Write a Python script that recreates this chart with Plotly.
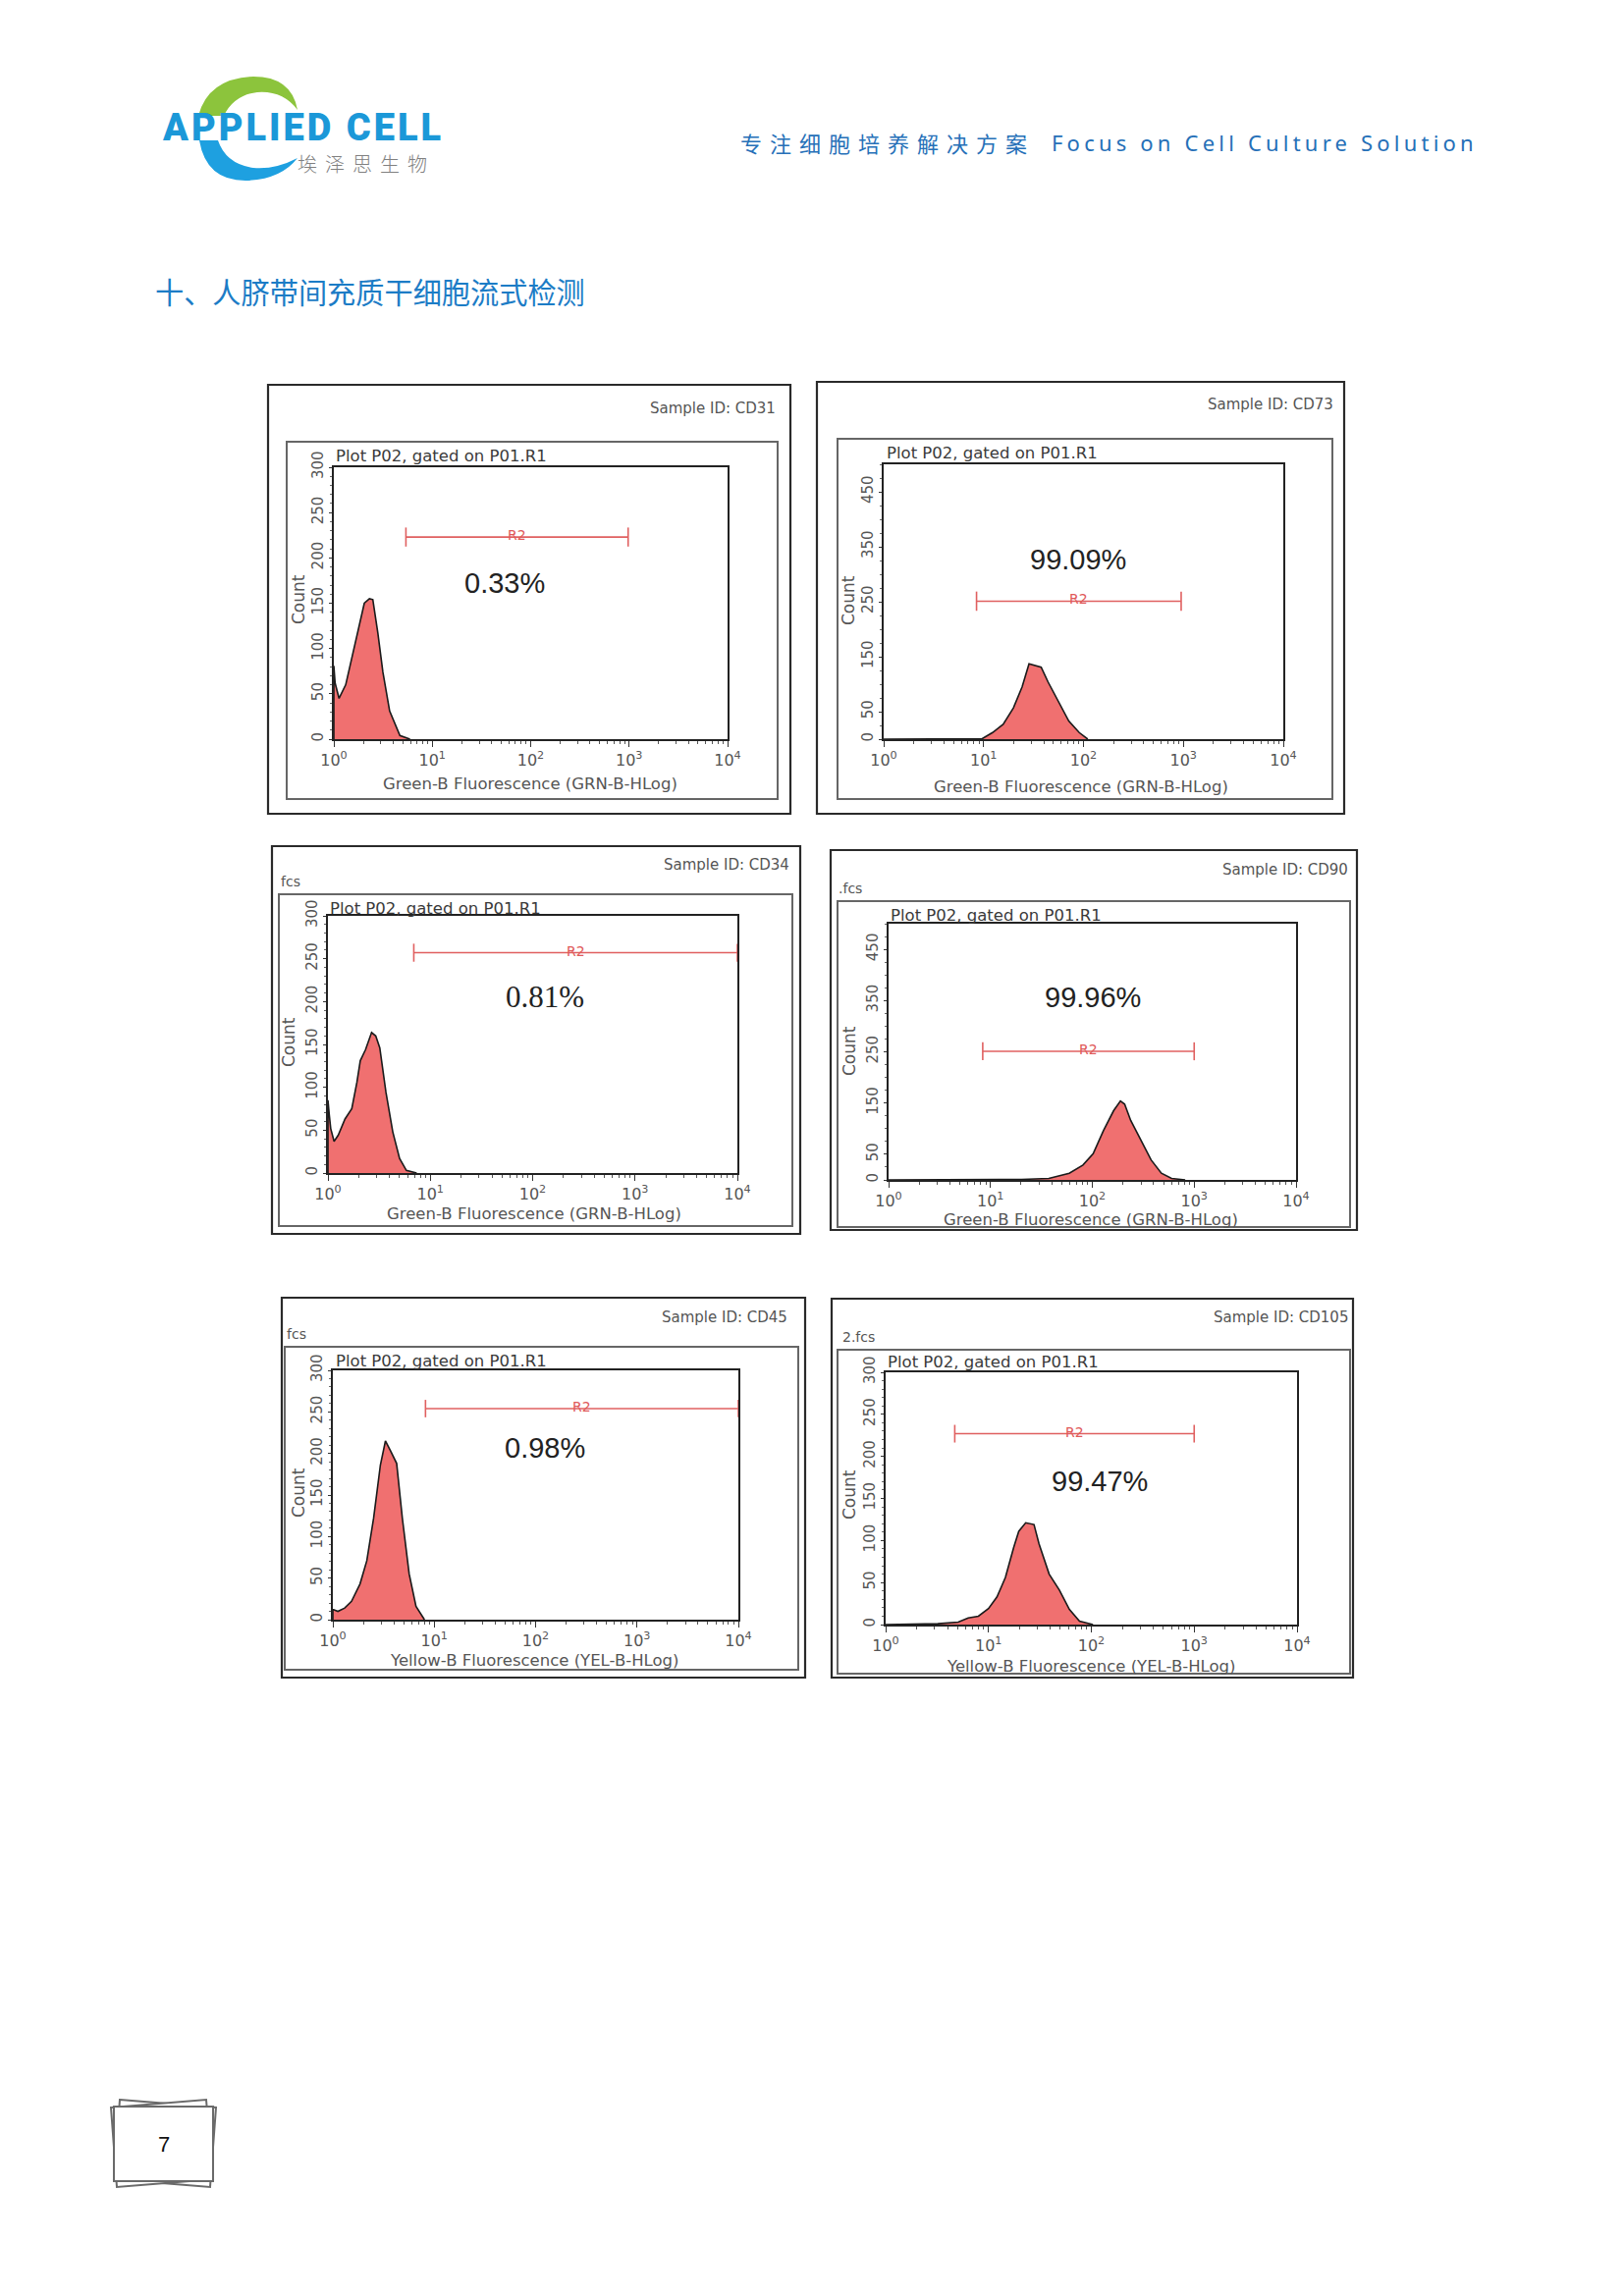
import math
import plotly.graph_objects as go

W, H = 1654, 2339

# ---------------- data ----------------
panel_ids = ["CD31", "CD73", "CD34", "CD90", "CD45", "CD105"]
percent_labels = ["0.33%", "99.09%", "0.81%", "99.96%", "0.98%", "99.47%"]
count_max = [300, 500, 300, 500, 300, 300]
count_ticks_300 = [0, 50, 100, 150, 200, 250, 300]
count_ticks_500 = [0, 50, 150, 250, 350, 450]
fluor_ticks = [1, 10, 100, 1000, 10000]
fluor_tick_labels = ["10<sup>0</sup>", "10<sup>1</sup>", "10<sup>2</sup>", "10<sup>3</sup>", "10<sup>4</sup>"]
x_axis_titles = ["Green-B Fluorescence (GRN-B-HLog)"] * 4 + ["Yellow-B Fluorescence (YEL-B-HLog)"] * 2
file_labels = ["", "", "fcs", ".fcs", "fcs", "2.fcs"]
plot_caption = "Plot P02, gated on P01.R1"
gate_name = "R2"
y_title = "Count"

r2_start = [5.4, 8.5, 6.9, 8.4, 8.2, 4.7]
r2_end = [977, 950, 10000, 1000, 10000, 1000]
r2_level = [223, 251, 257, 251, 254, 227]
pct_x = [55, 88, 133, 100, 123, 120]
pct_y = [172, 327, 205, 356, 207, 171]

cd31_fluor = [1.0, 1.0, 1.03, 1.13, 1.32, 1.55, 1.81, 2.04, 2.30, 2.49, 2.80, 3.15, 3.69, 4.69, 5.94]
cd31_count = [0, 81, 62, 45, 60, 92, 125, 150, 155, 154, 117, 74, 31, 4, 0]

cd73_fluor = [1.0, 9.0, 9.7, 12.3, 15.7, 19.9, 24.3, 28.5, 32.1, 37.7, 44.2, 56.1, 71.3, 90.6, 110.4]
cd73_count = [0, 0, 1, 12, 27, 57, 95, 137, 134, 131, 104, 68, 33, 12, 0]

cd34_fluor = [1.0, 1.0, 1.03, 1.064, 1.148, 1.259, 1.468, 1.71, 1.92, 2.07, 2.33, 2.67, 2.93, 3.21, 3.69, 4.30, 5.01, 5.84, 7.36]
cd34_count = [0, 85, 68, 52, 37, 44, 63, 75, 106, 131, 144, 164, 160, 146, 94, 48, 17, 3, 0]

cd90_fluor = [1.0, 20.2, 37.4, 59.4, 80.9, 101.9, 128.5, 161.8, 188.8, 207.5, 238.2, 300, 377.6, 476.4, 600, 816]
cd90_count = [0, 1, 3, 13, 29, 51, 96, 135, 154, 148, 116, 77, 39, 13, 3, 0]

cd45_fluor = [1.0, 1.0, 1.015, 1.122, 1.309, 1.528, 1.854, 2.163, 2.523, 2.943, 3.30, 3.71, 4.26, 4.85, 5.66, 6.61, 8.01]
cd45_count = [0, 12, 12, 10, 14, 22, 43, 71, 122, 186, 215, 203, 188, 122, 55, 16, 0]

cd105_fluor = [1.0, 3.22, 5.07, 6.35, 7.98, 10.0, 12.1, 14.6, 17.6, 19.7, 23.0, 27.7, 31.0, 38.9, 48.9, 61.2, 76.7, 103.8]
cd105_count = [0, 1, 3, 8, 10, 19, 33, 56, 92, 111, 121, 119, 96, 60, 41, 18, 4, 0]

hist_fluor = [cd31_fluor, cd73_fluor, cd34_fluor, cd90_fluor, cd45_fluor, cd105_fluor]
hist_count = [cd31_count, cd73_count, cd34_count, cd90_count, cd45_count, cd105_count]

header_cn = "专注细胞培养解决方案"
header_en = "Focus on Cell Culture Solution"
logo_text = "APPLIED CELL"
logo_cn = "埃泽思生物"
section_title = "十、人脐带间充质干细胞流式检测"
page_number = "7"

# ---------------- layout geometry (page pixels) ----------------
plot_px = [(340, 476, 741, 753), (900, 473, 1307, 753), (334, 933, 751, 1195),
           (905, 941, 1320, 1202), (339, 1396, 752, 1650), (902, 1398, 1321, 1655)]
outer_px = [(273, 392, 805, 829), (832, 389, 1369, 829), (277, 862, 815, 1257),
            (846, 866, 1382, 1253), (287, 1322, 820, 1709), (847, 1323, 1378, 1709)]
inner_px = [(292, 450, 792, 814), (853, 447, 1357, 814), (284, 911, 807, 1249),
            (853, 918, 1375, 1250), (290, 1372, 813, 1701), (853, 1375, 1375, 1705)]
sample_px = [(792, 416), (1360, 412), (806, 881), (1375, 886), (804, 1342), (1375, 1342)]
caption_px = [(340, 465), (901, 461), (334, 925), (905, 932), (340, 1386), (902, 1387)]
count_px = [(304, 611), (864, 612), (294, 1062), (865, 1071), (304, 1521), (865, 1523)]
xtitle_px = [(540, 798), (1101, 801), (544, 1236), (1111, 1242), (544, 1691), (1111, 1697)]
file_px = [(0, 0), (0, 0), (284, 898), (852, 905), (290, 1359), (856, 1362)]


def X(px):
    return px / W


def Y(py):
    return 1 - py / H


def pth(cmds, close=True):
    out = []
    for c, pts in cmds:
        coords = [f"{X(pts[j]):.5f},{Y(pts[j + 1]):.5f}" for j in range(0, len(pts), 2)]
        out.append(c + " " + " ".join(coords))
    return " ".join(out) + (" Z" if close else "")


fig = go.Figure()
shapes = []
annotations = []

TXT = "DejaVu Sans"
minor_log = [m * t for t in fluor_ticks[:-1] for m in range(2, 10)]

for i in range(6):
    n = "" if i == 0 else str(i + 1)
    x0, y0, x1, y1 = plot_px[i]
    ymax = count_max[i]
    yticks = count_ticks_300 if ymax == 300 else count_ticks_500

    fig.add_trace(go.Scatter(
        x=hist_fluor[i], y=hist_count[i], mode="lines",
        line=dict(color="#1a1a1a", width=1.6), fill="tozeroy",
        fillcolor="#f07070", xaxis="x" + n, yaxis="y" + n,
        showlegend=False, hoverinfo="skip"))

    s, e, lv = r2_start[i], r2_end[i], r2_level[i]
    cap = ymax * 0.035
    fig.add_trace(go.Scatter(
        x=[s, s, None, s, e, None, e, e],
        y=[lv - cap, lv + cap, None, lv, lv, None, lv - cap, lv + cap],
        mode="lines", line=dict(color="#e06060", width=1.6),
        xaxis="x" + n, yaxis="y" + n, showlegend=False, hoverinfo="skip"))

    fig.update_layout({
        "xaxis" + n: dict(
            domain=[X(x0), X(x1)], anchor="y" + n, type="log", range=[0, 4],
            tickvals=fluor_ticks, ticktext=fluor_tick_labels, ticks="outside",
            ticklen=6, tickwidth=1.2, tickcolor="#333", showline=True,
            linecolor="#222", linewidth=1.8, mirror=True, showgrid=False,
            zeroline=False, automargin=False,
            tickfont=dict(family=TXT, size=16, color="#555"),
            minor=dict(ticks="outside", ticklen=3, tickvals=minor_log,
                       tickcolor="#555", tickwidth=1)),
        "yaxis" + n: dict(
            domain=[Y(y1), Y(y0)], anchor="x" + n, range=[0, ymax],
            tickvals=yticks, ticktext=[str(v) for v in yticks], tickangle=-90,
            ticks="outside", ticklen=3, tickcolor="#333", showline=True,
            linecolor="#222", linewidth=1.8, mirror=True, showgrid=False,
            zeroline=False, automargin=False,
            tickfont=dict(family=TXT, size=15, color="#555"),
            minor=dict(ticks="outside", ticklen=2,
                       dtick=10 if ymax == 300 else 25, tickcolor="#666")),
    })

    # gate label and percentage
    annotations.append(dict(
        x=math.log10(math.sqrt(s * e)), y=lv, xref="x" + n, yref="y" + n,
        text=gate_name, showarrow=False, yshift=2,
        font=dict(family=TXT, size=14, color="#e05a5a")))
    serif = percent_labels[i] == "0.81%"
    annotations.append(dict(
        x=math.log10(pct_x[i]), y=pct_y[i], xref="x" + n, yref="y" + n,
        text=percent_labels[i], showarrow=False,
        font=dict(family="Liberation Serif" if serif else "Liberation Sans",
                  size=31 if serif else 29, color="#222")))

    # frames
    ox0, oy0, ox1, oy1 = outer_px[i]
    shapes.append(dict(type="rect", xref="paper", yref="paper",
                       x0=X(ox0), x1=X(ox1), y0=Y(oy1), y1=Y(oy0),
                       line=dict(color="#2a2a2a", width=2.2)))
    ix0, iy0, ix1, iy1 = inner_px[i]
    shapes.append(dict(type="rect", xref="paper", yref="paper",
                       x0=X(ix0), x1=X(ix1), y0=Y(iy1), y1=Y(iy0),
                       line=dict(color="#666", width=2)))

    sx, sy = sample_px[i]
    annotations.append(dict(x=X(sx), y=Y(sy), xref="paper", yref="paper",
                            xanchor="right", yanchor="middle", showarrow=False,
                            text="Sample ID: " + panel_ids[i],
                            font=dict(family=TXT, size=15, color="#555")))
    cx, cy = caption_px[i]
    annotations.append(dict(x=X(cx), y=Y(cy), xref="paper", yref="paper",
                            xanchor="left", yanchor="middle", showarrow=False,
                            text=plot_caption,
                            font=dict(family=TXT, size=16.5, color="#3a3a3a")))
    kx, ky = count_px[i]
    annotations.append(dict(x=X(kx), y=Y(ky), xref="paper", yref="paper",
                            xanchor="center", yanchor="middle", showarrow=False,
                            text=y_title, textangle=-90,
                            font=dict(family=TXT, size=17, color="#555")))
    tx, ty = xtitle_px[i]
    annotations.append(dict(x=X(tx), y=Y(ty), xref="paper", yref="paper",
                            xanchor="center", yanchor="middle", showarrow=False,
                            text=x_axis_titles[i],
                            font=dict(family=TXT, size=16.5, color="#555")))
    if file_labels[i]:
        fx, fy = file_px[i]
        annotations.append(dict(x=X(fx), y=Y(fy), xref="paper", yref="paper",
                                xanchor="left", yanchor="middle", showarrow=False,
                                text=file_labels[i],
                                font=dict(family=TXT, size=14, color="#555")))

# ---------------- header / logo ----------------
shapes.append(dict(type="path", xref="paper", yref="paper",
                   path=pth([("M", [202, 118]), ("Q", [212, 80, 258, 78]),
                             ("Q", [297, 78, 303, 112]), ("Q", [288, 92, 262, 94]),
                             ("Q", [238, 97, 228, 118])]),
                   fillcolor="#8cc43c", line=dict(width=0)))
shapes.append(dict(type="path", xref="paper", yref="paper",
                   path=pth([("M", [203, 143]), ("Q", [210, 184, 250, 184]),
                             ("Q", [286, 183, 303, 161]), ("Q", [280, 173, 258, 171]),
                             ("Q", [230, 167, 222, 143])]),
                   fillcolor="#1ea0e0", line=dict(width=0)))
annotations.append(dict(x=X(163), y=Y(130), xref="paper", yref="paper",
                        xanchor="left", yanchor="middle", showarrow=False,
                        text='<span style="letter-spacing:3px">' + logo_text + '</span>',
                        font=dict(family="Roboto", size=38, color="#1b98d8", weight=900)))
annotations.append(dict(x=X(301), y=Y(166), xref="paper", yref="paper",
                        xanchor="left", yanchor="middle", showarrow=False,
                        text='<span style="letter-spacing:8px">' + logo_cn + '</span>',
                        font=dict(family="Noto Sans CJK SC", size=20, color="#808080", weight=300)))
annotations.append(dict(x=X(752), y=Y(145), xref="paper", yref="paper",
                        xanchor="left", yanchor="middle", showarrow=False,
                        text='<span style="letter-spacing:8px">' + header_cn + '</span>',
                        font=dict(family="Noto Sans CJK SC", size=22, color="#2670b8")))
annotations.append(dict(x=X(1069), y=Y(145), xref="paper", yref="paper",
                        xanchor="left", yanchor="middle", showarrow=False,
                        text='<span style="letter-spacing:4.2px">' + header_en + '</span>',
                        font=dict(family="Noto Sans", size=22, color="#2670b8")))
annotations.append(dict(x=X(156), y=Y(296), xref="paper", yref="paper",
                        xanchor="left", yanchor="middle", showarrow=False,
                        text=section_title,
                        font=dict(family="Noto Sans CJK SC", size=29.2, color="#1c7cc6")))

# ---------------- page number ----------------
shapes.append(dict(type="path", xref="paper", yref="paper",
                   path=pth([("M", [122, 2139]), ("L", [220, 2147]), ("L", [214, 2228]), ("L", [116, 2220])]),
                   line=dict(color="#6a6a6a", width=2), fillcolor="white"))
shapes.append(dict(type="path", xref="paper", yref="paper",
                   path=pth([("M", [113, 2147]), ("L", [210, 2139]), ("L", [217, 2220]), ("L", [119, 2228])]),
                   line=dict(color="#6a6a6a", width=2), fillcolor="white"))
shapes.append(dict(type="rect", xref="paper", yref="paper",
                   x0=X(116), x1=X(217), y0=Y(2222), y1=Y(2146),
                   line=dict(color="#6a6a6a", width=2), fillcolor="white"))
annotations.append(dict(x=X(167), y=Y(2184), xref="paper", yref="paper",
                        xanchor="center", yanchor="middle", showarrow=False,
                        text=page_number,
                        font=dict(family="Liberation Sans", size=22, color="#111")))

fig.update_layout(
    width=W, height=H, autosize=False,
    margin=dict(l=0, r=0, t=0, b=0, pad=0, autoexpand=False),
    paper_bgcolor="white", plot_bgcolor="white",
    shapes=shapes, annotations=annotations, showlegend=False,
)

fig.write_html(
    "out.html", config={"displayModeBar": False},
    post_script="document.documentElement.style.margin='0';"
                "document.body.style.margin='0';document.body.style.padding='0';")
